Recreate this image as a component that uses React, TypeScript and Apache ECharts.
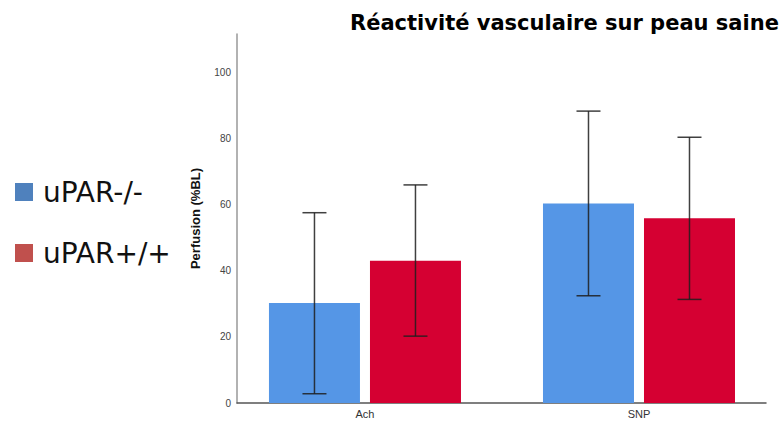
import React, { useEffect, useRef } from "react";
import * as echarts from "echarts";

const categories = ["Ach", "SNP"];
const seriesNames = ["uPAR-/-", "uPAR+/+"];
const meanKO = [30.2, 60.3];
const meanWT = [43.0, 55.8];
const lowKO = [2.8, 32.4];
const highKO = [57.5, 88.2];
const lowWT = [20.2, 31.3];
const highWT = [65.9, 80.3];
const yTicks = [0, 20, 40, 60, 80, 100];

const barColors = ["#5596e6", "#d50032"];
const legendColors = ["#4f81bd", "#c0504d"];

export default function App() {
  const ref = useRef<HTMLDivElement>(null);
  useEffect(() => {
    if (!ref.current) return;
    const chart = echarts.init(ref.current, undefined, { renderer: "svg" });
    const BAR_W = 91;
    const OFFSET = 50.5;
    const errSeries = (low: number[], high: number[], off: number, name: string) => ({
      type: "custom",
      name: name + " err",
      xAxisIndex: 0,
      yAxisIndex: 0,
      z: 10,
      encode: { x: 0, y: [1, 2] },
      data: categories.map((_, i) => [i, low[i], high[i]]),
      renderItem: (_params: any, api: any) => {
        const x = api.value(0);
        const lo = api.coord([x, api.value(1)]);
        const hi = api.coord([x, api.value(2)]);
        const cx = lo[0] + off;
        const cap = 12;
        const style = { stroke: "rgba(30,30,30,0.85)", lineWidth: 1.5 };
        return {
          type: "group",
          children: [
            { type: "line", shape: { x1: cx, y1: lo[1], x2: cx, y2: hi[1] }, style },
            { type: "line", shape: { x1: cx - cap, y1: hi[1], x2: cx + cap, y2: hi[1] }, style },
            { type: "line", shape: { x1: cx - cap, y1: lo[1], x2: cx + cap, y2: lo[1] }, style },
          ],
        };
      },
    });
    chart.setOption({
      animation: false,
      backgroundColor: "#ffffff",
      title: {
        text: "Réactivité vasculaire sur peau saine",
        left: 345,
        top: 7,
        textStyle: {
          fontFamily: "DejaVu Sans",
          fontWeight: "bold",
          fontSize: 21,
          color: "#000",
        },
      },
      legend: {
        orient: "vertical",
        left: 15,
        top: 178,
        padding: 0,
        itemWidth: 18,
        itemHeight: 18,
        itemGap: 33,
        icon: "rect",
        selectedMode: false,
        data: seriesNames.map((n, i) => ({ name: n, itemStyle: { color: legendColors[i] } })),
        textStyle: {
          fontFamily: "DejaVu Sans",
          fontSize: 28,
          lineHeight: 18,
          color: "#111",
          padding: [0, 0, 0, 5],
        },
      },
      grid: { left: 237, top: 34, right: 13, bottom: 20, containLabel: false },
      xAxis: {
        type: "value",
        min: -0.467,
        max: 1.4635,
        splitLine: { show: false },
        axisTick: { show: false },
        axisLine: { show: true, onZero: false, lineStyle: { color: "#555", width: 1.5 } },
        axisLabel: {
          customValues: [0, 1],
          formatter: (v: number) => categories[Math.round(v)] ?? "",
          color: "#333",
          fontSize: 11,
          fontFamily: "Liberation Sans, Arial, sans-serif",
          margin: 5,
        },
      },
      yAxis: {
        type: "value",
        min: 0,
        max: 111.5,
        interval: 20,
        name: "Perfusion (%BL)",
        nameLocation: "middle",
        nameGap: 35,
        nameTextStyle: {
          fontFamily: "Liberation Sans, Arial, sans-serif",
          fontSize: 13,
          fontWeight: "bold",
          color: "#111",
        },
        splitLine: { show: false },
        axisTick: { show: false },
        axisLine: { show: true, onZero: false, lineStyle: { color: "#999", width: 1.5 } },
        axisLabel: {
          showMaxLabel: false,
          formatter: (v: number) => (yTicks.includes(v) ? String(v) : ""),
          color: "#444",
          fontSize: 10,
          fontFamily: "Liberation Sans, Arial, sans-serif",
          margin: 6,
        },
      },
      series: [
        {
          type: "bar",
          name: seriesNames[0],
          barWidth: BAR_W,
          barGap: "11%",
          itemStyle: { color: barColors[0] },
          data: categories.map((_, i) => [i, meanKO[i]]),
        },
        {
          type: "bar",
          name: seriesNames[1],
          barWidth: BAR_W,
          barGap: "11%",
          itemStyle: { color: barColors[1] },
          data: categories.map((_, i) => [i, meanWT[i]]),
        },
        errSeries(lowKO, highKO, -OFFSET, seriesNames[0]),
        errSeries(lowWT, highWT, OFFSET, seriesNames[1]),
      ],
    });
    return () => chart.dispose();
  }, []);
  return (
    <div
      ref={ref}
      style={{ position: "fixed", left: 0, top: 0, width: 779, height: 423 }}
    />
  );
}
